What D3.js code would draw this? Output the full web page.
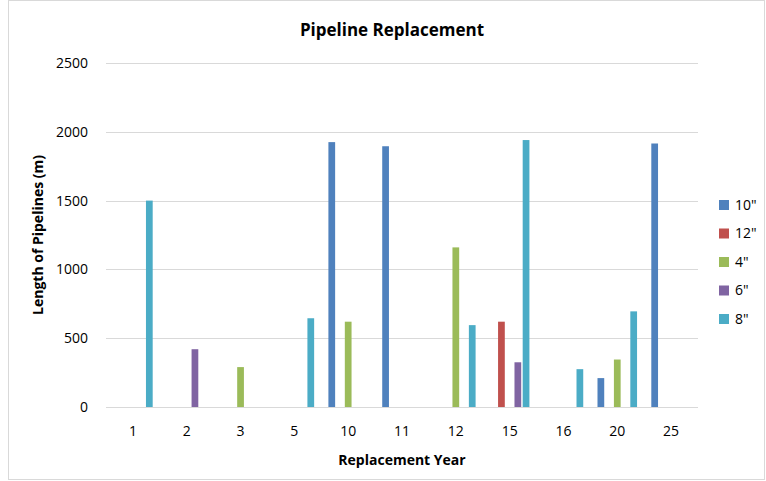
<!DOCTYPE html>
<html>
<head>
<meta charset="utf-8">
<script src="https://cdn.jsdelivr.net/npm/d3@7"></script>
<style>
  body { margin: 0; background: #fff; }
  svg text { font-family: "Open Sans", "Liberation Sans", sans-serif; fill: #000; }
</style>
</head>
<body>
<div id="chart"></div>
<script>
// data
const years = ["1", "2", "3", "5", "10", "11", "12", "15", "16", "20", "25"];
const seriesNames = ['10"', '12"', '4"', '6"', '8"'];
const s10 = [0, 0, 0, 0, 1925, 1895, 0, 0, 0, 210, 1915];
const s12 = [0, 0, 0, 0, 0, 0, 0, 620, 0, 0, 0];
const s4 = [0, 0, 290, 0, 620, 0, 1160, 0, 0, 345, 0];
const s6 = [0, 420, 0, 0, 0, 0, 0, 325, 0, 0, 0];
const s8 = [1500, 0, 0, 645, 0, 0, 595, 1940, 275, 695, 0];
const yTicks = [0, 500, 1000, 1500, 2000, 2500];
const colors = ["#4F81BD", "#C0504D", "#9BBB59", "#8064A2", "#4BACC6"];

const seriesValues = [s10, s12, s4, s6, s8];

let width = 766, height = 481;
let margin = { left: 106, right: 68, top: 63, bottom: 74 };

let svg = d3.select("#chart").append("svg")
    .attr("width", width)
    .attr("height", height);

// chart border
svg.append("rect")
    .attr("x", 8.5).attr("y", 0.5)
    .attr("width", width - 10).attr("height", height - 2)
    .attr("fill", "none")
    .attr("stroke", "#d9d9d9");

let x = d3.scaleBand()
    .domain(years)
    .range([margin.left, width - margin.right]);

// the five series sit in the middle of each year's band
let x1 = d3.scaleBand()
    .domain(seriesNames)
    .range([x.bandwidth() * 0.105, x.bandwidth() * 0.895])
    .padding(0.18);

let y = d3.scaleLinear()
    .domain([0, 2500])
    .range([height - margin.bottom, margin.top]);

// gridlines
svg.append("g")
    .selectAll("line")
    .data(yTicks)
    .enter().append("line")
    .attr("x1", margin.left).attr("x2", width - margin.right)
    .attr("y1", d => Math.round(y(d)) + 0.5).attr("y2", d => Math.round(y(d)) + 0.5)
    .attr("stroke", "#d9d9d9");

// y axis labels
let yAxis = svg.append("g")
    .attr("transform", "translate(" + (margin.left - 18) + ",0)")
    .call(d3.axisLeft(y).tickValues(yTicks).tickFormat(d3.format("d")).tickSize(0).tickPadding(0));
yAxis.select(".domain").remove();
yAxis.selectAll("text").style("font-size", "14px").attr("fill", "#000");

// x axis labels
let xAxis = svg.append("g")
    .attr("transform", "translate(0," + (height - margin.bottom) + ")")
    .call(d3.axisBottom(x).tickSize(0).tickPadding(19));
xAxis.select(".domain").remove();
xAxis.selectAll("text").style("font-size", "14px").attr("fill", "#000");

// bars
let rows = years.map((yr, i) => ({ year: yr, vals: seriesNames.map((s, j) => ({ key: s, idx: j, value: seriesValues[j][i] })) }));

let groups = svg.selectAll("g.year")
    .data(rows)
    .enter().append("g")
    .attr("class", "year")
    .attr("transform", d => "translate(" + x(d.year) + ",0)");

groups.selectAll("rect")
    .data(d => d.vals.filter(v => v.value > 0))
    .enter().append("rect")
    .attr("x", d => x1(d.key))
    .attr("width", x1.bandwidth())
    .attr("y", d => y(d.value))
    .attr("height", d => y(0) - y(d.value))
    .attr("fill", d => colors[d.idx]);

// title
svg.append("text")
    .attr("x", 392).attr("y", 36)
    .attr("text-anchor", "middle")
    .style("font-size", "17px").style("font-weight", "bold")
    .text("Pipeline Replacement");

// axis titles
svg.append("text")
    .attr("x", (margin.left + width - margin.right) / 2).attr("y", 465)
    .attr("text-anchor", "middle")
    .style("font-size", "14px").style("font-weight", "bold")
    .text("Replacement Year");

svg.append("text")
    .attr("transform", "translate(43," + ((margin.top + height - margin.bottom) / 2) + ") rotate(-90)")
    .attr("text-anchor", "middle")
    .style("font-size", "14px").style("font-weight", "bold")
    .text("Length of Pipelines (m)");

// legend
let legend = svg.selectAll("g.legend")
    .data(seriesNames)
    .enter().append("g")
    .attr("class", "legend")
    .attr("transform", (d, i) => "translate(719," + (205 + i * 28.5) + ")");

legend.append("rect")
    .attr("x", 0).attr("y", -5)
    .attr("width", 10).attr("height", 10)
    .attr("fill", (d, i) => colors[i]);

legend.append("text")
    .attr("x", 16).attr("y", 0)
    .attr("dy", "0.35em")
    .style("font-size", "14px")
    .text(d => d);
</script>
</body>
</html>
